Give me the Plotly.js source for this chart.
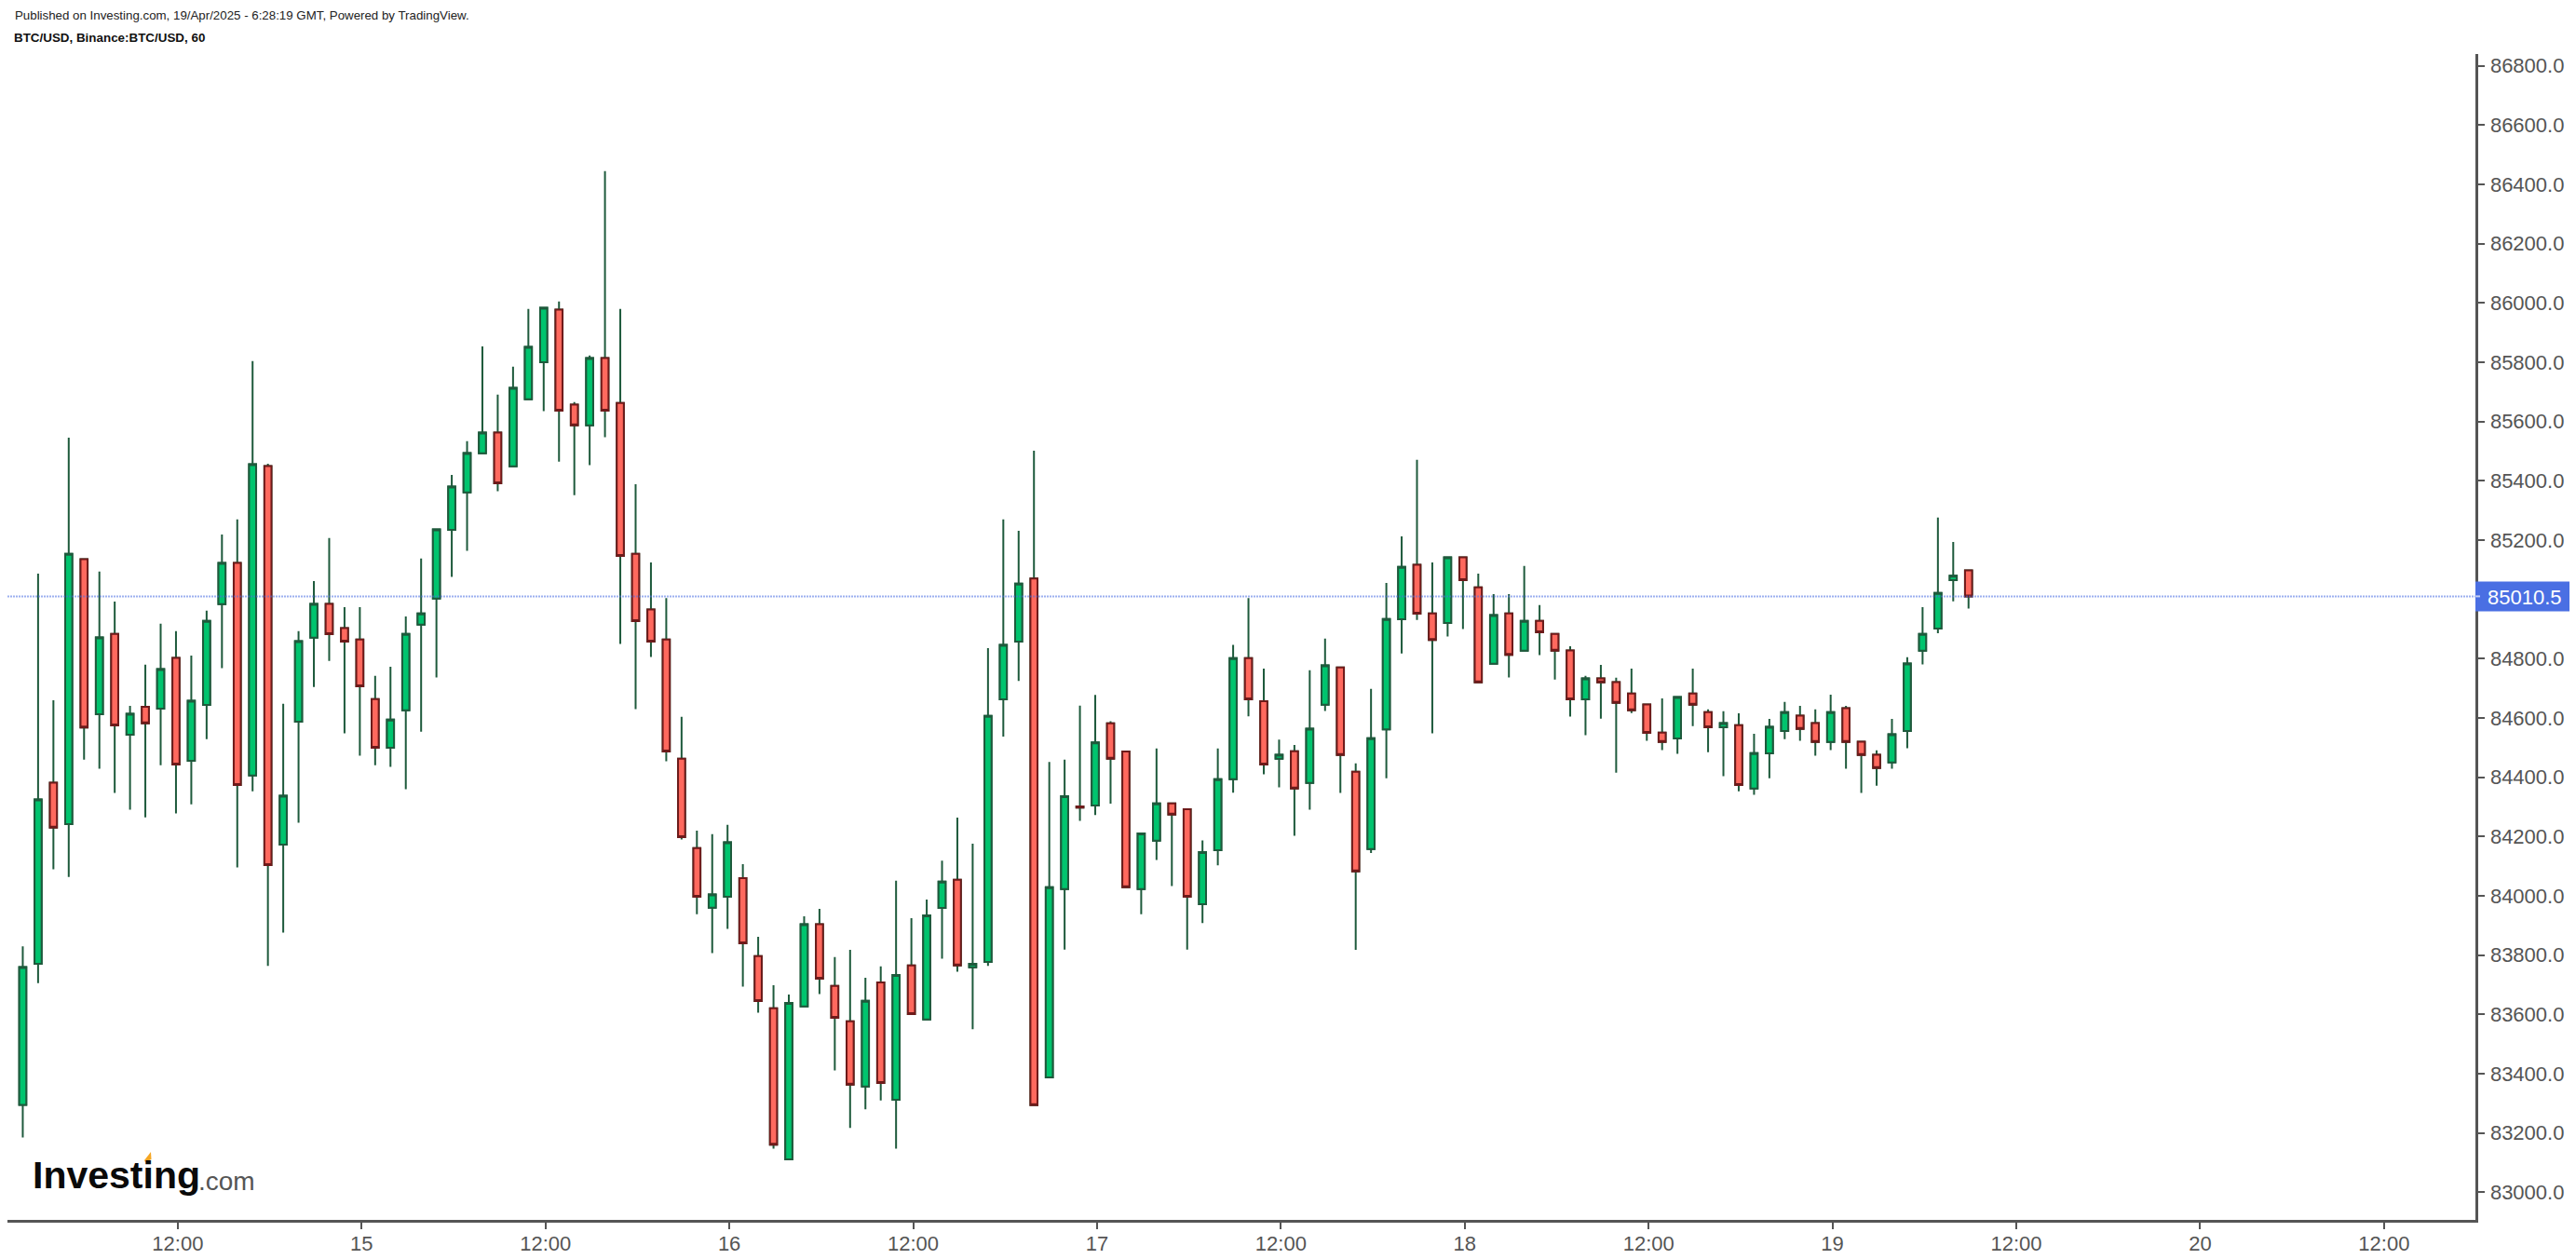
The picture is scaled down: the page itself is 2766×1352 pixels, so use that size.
<!DOCTYPE html>
<html>
<head>
<meta charset="utf-8">
<script src="https://cdn.plot.ly/plotly-3.0.1.min.js"></script>
<style>html,body{margin:0;padding:0;background:#fff}#chart{width:2766px;height:1352px}</style>
</head>
<body>
<div id="chart"></div>
<script>
// Hourly candles, first bar 14 Apr 02:00
const startHour = Date.UTC(2025, 3, 14, 2);
const open = [83295,83771,84382,84242,85136,84613,84884,84544,84638,84632,84803,84456,84644,84984,85123,84406,85450,84173,84588,84871,84985,84903,84865,84664,84500,84626,84915,85003,85235,85361,85493,85563,85449,85675,85800,85978,85657,85587,85814,85663,85154,84966,84865,84463,84161,83960,83997,84060,83797,83621,83111,83627,83904,83696,83577,83357,83708,83312,83765,83583,83959,84054,83759,83777,84663,84858,85071,83388,84023,84302,84305,84582,84487,84023,84186,84312,84292,83972,84154,84394,84802,84657,84463,84488,84381,84645,84771,84419,84158,84562,84933,85117,84953,84921,85142,85041,84783,84953,84827,84928,84884,84828,84663,84734,84721,84683,84646,84551,84531,84683,84620,84569,84576,84362,84481,84556,84608,84583,84519,84633,84520,84476,84450,84556,84827,84902,85065,85098];
const high = [83830,85087,84660,85546,85136,85094,84993,84641,84780,84918,84893,84811,84962,85219,85270,85804,85458,84648,84893,85062,85207,84974,84974,84742,84773,84943,85138,85236,85420,85534,85854,85691,85785,85980,85984,86005,85666,85823,86445,85980,85389,85125,85005,84604,84220,84208,84240,84107,83862,83699,83667,83931,83956,83794,83818,83724,83762,84051,83925,83988,84119,84264,84176,84836,85270,85232,85502,84452,84460,84642,84678,84589,84487,84211,84497,84312,84292,84187,84497,84847,85005,84767,84527,84509,84761,84868,84771,84447,84698,85056,85213,85471,85125,85142,85142,85087,85018,85018,85113,84981,84884,84842,84742,84779,84736,84767,84646,84666,84671,84767,84629,84623,84616,84547,84597,84654,84641,84629,84679,84641,84520,84491,84597,84805,84974,85276,85194,85098];
const low = [83185,83706,84090,84064,84460,84429,84347,84291,84265,84441,84278,84309,84529,84768,84096,84353,83764,83876,84247,84705,84793,84548,84473,84441,84435,84360,84554,84737,85076,85164,85493,85365,85449,85675,85635,85465,85352,85453,85547,84850,84630,84806,84454,84190,83938,83807,83889,83694,83606,83147,83111,83627,83669,83411,83217,83280,83310,83147,83601,83583,83788,83744,83550,83764,84537,84725,83294,83388,83819,84253,84273,84311,84029,83938,84121,84033,83819,83908,84103,84348,84606,84410,84366,84203,84291,84624,84347,83818,84145,84397,84818,84931,84548,84875,84900,84720,84783,84737,84827,84812,84730,84605,84542,84598,84416,84617,84523,84492,84479,84573,84485,84404,84353,84341,84397,84529,84523,84473,84492,84429,84347,84372,84429,84498,84781,84886,84994,84969];
const close = [83760,84325,84230,85154,84568,84872,84575,84614,84582,84765,84443,84658,84928,85123,84374,85456,84104,84338,84859,84985,84883,84858,84707,84500,84595,84884,84953,85236,85381,85494,85563,85392,85714,85852,85984,85637,85587,85814,85637,85147,84927,84858,84487,84198,83997,84005,84181,83840,83645,83161,83639,83904,83721,83589,83363,83646,83369,83733,83601,83934,84048,83765,83771,84607,84847,85053,83294,84029,84336,84298,84518,84463,84029,84211,84312,84274,83997,84148,84394,84802,84663,84443,84476,84362,84564,84778,84475,84083,84532,84934,85110,84952,84863,85142,85065,84720,84947,84813,84928,84889,84827,84663,84734,84720,84651,84626,84550,84519,84671,84645,84569,84583,84374,84482,84570,84620,84563,84519,84620,84519,84475,84431,84545,84784,84884,85022,85080,85010.5];
const lastPrice = 85010.5;
const timeTickVals = ["2025-04-14 12:07","2025-04-15 00:07","2025-04-15 12:07","2025-04-16 00:07","2025-04-16 12:07","2025-04-17 00:07","2025-04-17 12:07","2025-04-18 00:07","2025-04-18 12:07","2025-04-19 00:07","2025-04-19 12:07","2025-04-20 00:07","2025-04-20 12:07"];
const timeTickText = ["12:00","15","12:00","16","12:00","17","12:00","18","12:00","19","12:00","20","12:00"];
// 85000.0 sits behind the last-price tag in the reference
const priceTickVals = [83000,83200,83400,83600,83800,84000,84200,84400,84600,84800,85200,85400,85600,85800,86000,86200,86400,86600,86800];

const times = open.map((_, i) => new Date(startHour + i * 3600000).toISOString().slice(0, 16).replace('T', ' '));
const bodyHigh = open.map((v, i) => Math.max(v, close[i]));
const bodyLow = open.map((v, i) => Math.min(v, close[i]));

const WICK = '#1E5A3C', UP = '#00C46E', DOWN = '#FF695E', DOWNLINE = '#6E1A1A', AXIS = '#555555', TAG = '#4A6FE3';
const FONT = '"Liberation Sans", Arial, sans-serif';
const W = 2766, H = 1352, L = 8, R = 2658, T = 58, B = 1310;
const px = x => (x - L) / (R - L);
const py = y => (B - y) / (B - T);
const note = (text, x, y, size, color, weight) => ({
  text, x: px(x), y: py(y), xref: 'paper', yref: 'paper', xanchor: 'left', yanchor: 'middle',
  showarrow: false, borderpad: 0, borderwidth: 0,
  font: {family: FONT, size, color, weight: weight || 400}
});

const wicks = {
  type: 'candlestick', x: times, open, high, low, close, showlegend: false, hoverinfo: 'skip',
  increasing: {line: {color: WICK, width: 2}, fillcolor: 'rgba(0,0,0,0)'},
  decreasing: {line: {color: WICK, width: 2}, fillcolor: 'rgba(0,0,0,0)'}
};
const bodies = {
  type: 'candlestick', x: times, open, high: bodyHigh, low: bodyLow, close, showlegend: false,
  increasing: {line: {color: WICK, width: 2}, fillcolor: UP},
  decreasing: {line: {color: DOWNLINE, width: 2}, fillcolor: DOWN}
};

const layout = {
  width: W, height: H, autosize: false,
  paper_bgcolor: '#ffffff', plot_bgcolor: '#ffffff',
  margin: {l: L, r: W - R, t: T, b: H - B, pad: 0},
  showlegend: false, boxgap: 0.34, hovermode: false, dragmode: false,
  font: {family: FONT, color: AXIS, size: 22},
  title: {
    text: 'BTC/USD, Binance:BTC/USD, 60', x: px(15), xref: 'paper', xanchor: 'left', y: 1 - 40 / H, yanchor: 'middle',
    font: {family: FONT, size: 13.4, color: '#111111', weight: 700}, pad: {l: 0, r: 0, t: 0, b: 0}
  },
  xaxis: {
    type: 'date', range: ['2025-04-14 01:00', '2025-04-20 18:05'], rangeslider: {visible: false},
    tickmode: 'array', tickvals: timeTickVals, ticktext: timeTickText,
    showgrid: false, zeroline: false, showline: true, linecolor: AXIS, linewidth: 2.5,
    ticks: 'outside', ticklen: 7, tickwidth: 2, tickcolor: AXIS, ticklabelstandoff: -3,
    tickfont: {family: FONT, size: 22, color: AXIS}
  },
  yaxis: {
    side: 'right', range: [82907, 86840], tickmode: 'array', tickvals: priceTickVals, tickformat: '.1f',
    showgrid: false, zeroline: false, showline: true, linecolor: AXIS, linewidth: 2.5,
    ticks: 'outside', ticklen: 7, tickwidth: 2, tickcolor: AXIS, ticklabelstandoff: 2,
    tickfont: {family: FONT, size: 22, color: AXIS}
  },
  shapes: [
    {type: 'line', xref: 'paper', yref: 'y', x0: 0, x1: 1, y0: lastPrice, y1: lastPrice, layer: 'above',
     line: {color: 'rgba(74,111,227,0.55)', width: 2, dash: '2px,1px'}},
    {type: 'rect', xref: 'paper', yref: 'y', x0: 1, x1: px(2759), ysizemode: 'pixel', yanchor: lastPrice, y0: -16, y1: 16,
     layer: 'above', fillcolor: TAG, line: {width: 0}},
    {type: 'line', xref: 'paper', yref: 'y', x0: 1, x1: px(2663), y0: lastPrice, y1: lastPrice, layer: 'above',
     line: {color: '#C4CFF5', width: 2}},
    {type: 'path', xref: 'paper', yref: 'paper', layer: 'above', fillcolor: '#F5A623', line: {width: 0},
     path: `M ${px(155)} ${py(1246)} L ${px(162)} ${py(1237)} L ${px(162.5)} ${py(1245)} L ${px(156)} ${py(1248)} Z`}
  ],
  annotations: [
    note('Published on Investing.com, 19/Apr/2025 - 6:28:19 GMT, Powered by TradingView.', 16, 17, 13.3, '#222222'),
    note(lastPrice.toFixed(1), 2671, 641, 22, '#ffffff'),
    note('Investing', 35, 1262, 41, '#0a0a0a', 700),
    note('.com', 213, 1268, 28, '#555555')
  ]
};

Plotly.newPlot('chart', [wicks, bodies], layout, {displayModeBar: false, staticPlot: true});
</script>
</body>
</html>
